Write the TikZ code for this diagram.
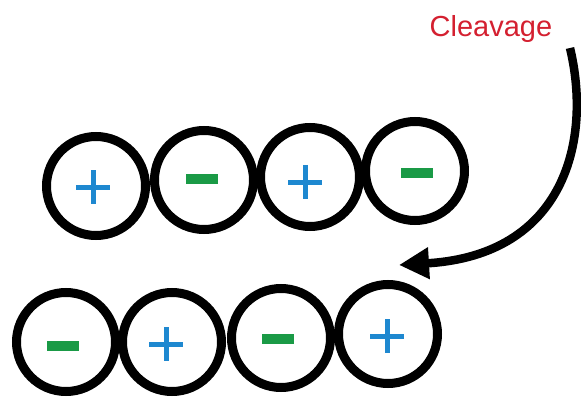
\documentclass[tikz,border=0pt]{standalone}
\usepackage{fontspec}
\setmainfont{Liberation Sans}
\usetikzlibrary{arrows.meta}
\definecolor{ionblue}{RGB}{30,136,208}
\definecolor{iongreen}{RGB}{26,154,70}
\definecolor{cleavred}{RGB}{212,32,48}

\begin{document}
\begin{tikzpicture}[x=1pt,y=-1pt,>={Triangle[length=30pt,width=30pt]},
        ion/.style={circle,draw=black,line width=9pt,minimum size=99pt,inner sep=0pt},
        plusbar/.style={draw=ionblue,line width=5pt},
        minusbar/.style={fill=iongreen,minimum width=32pt,minimum height=10pt,inner sep=0pt}]
        \useasboundingbox (0,0) rectangle (581,401);
        % upper row
        \node[ion] (u1) at (96,186) {};
        \node[ion] (u2) at (204,180) {};
        \node[ion] (u3) at (310,177) {};
        \node[ion] (u4) at (415,171) {};
        \coordinate (up1) at (93,187);
        \draw[plusbar] (up1) ++(-17,0) -- ++(34,0);
        \draw[plusbar] (up1) ++(0,-17) -- ++(0,34);
        \node[minusbar] (um2) at (202,178.5) {};
        \coordinate (up3) at (305,182);
        \draw[plusbar] (up3) ++(-17,0) -- ++(34,0);
        \draw[plusbar] (up3) ++(0,-17) -- ++(0,34);
        \node[minusbar] (um4) at (417,173) {};
        % lower row
        \node[ion] (l1) at (66,342) {};
        \node[ion] (l2) at (172,342) {};
        \node[ion] (l3) at (281,338) {};
        \node[ion] (l4) at (388,334) {};
        \node[minusbar] (lm1) at (63,346) {};
        \coordinate (lp2) at (166,344);
        \draw[plusbar] (lp2) ++(-17,0) -- ++(34,0);
        \draw[plusbar] (lp2) ++(0,-17) -- ++(0,34);
        \node[minusbar] (lm3) at (278,339) {};
        \coordinate (lp4) at (387,336);
        \draw[plusbar] (lp4) ++(-17,0) -- ++(34,0);
        \draw[plusbar] (lp4) ++(0,-17) -- ++(0,34);
        % cleavage arrow
        \node[text=cleavred,font=\fontsize{29}{29}\selectfont,anchor=base] (cleav) at (491,37) {Cleavage};
        \coordinate (arrstart) at (570,48);
        \coordinate (arrend) at (399,265);
        \draw[->,line width=8.5pt] (arrstart) .. controls (592,140) and (565,255) .. (arrend);
    \end{tikzpicture}
\end{document}
